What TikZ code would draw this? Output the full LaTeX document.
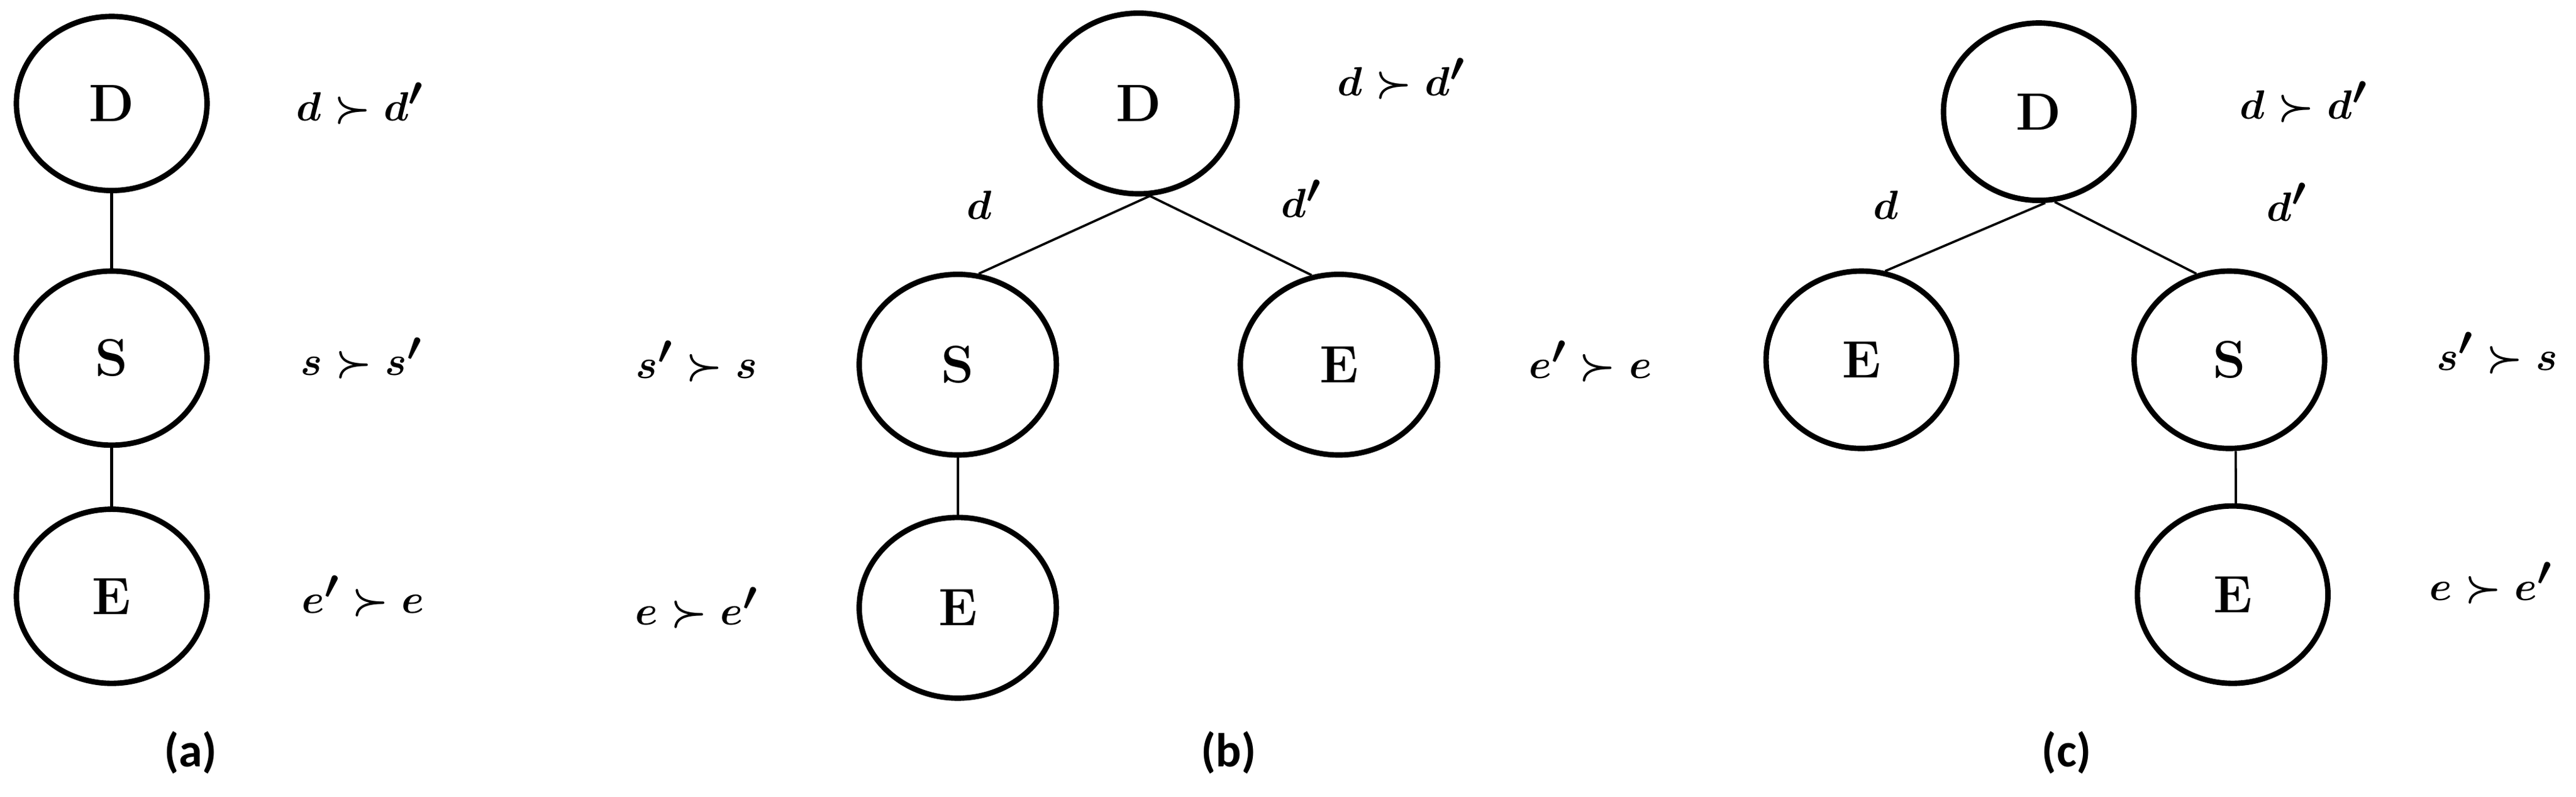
\documentclass[tikz,border=0pt]{standalone}
\usepackage{amsmath}
\usepackage{fontspec}
\newfontfamily\capfont{Carlito}
\usetikzlibrary{shapes.geometric}
\tikzset{
  vtx/.style={ellipse,draw,line width=3.3pt,inner sep=0pt,
    minimum width=116pt,minimum height=106pt,
    font=\fontsize{32}{34}\selectfont\bfseries},
  vtxb/.style={vtx,minimum width=120pt,minimum height=110pt},
  vtxc/.style={vtx,minimum width=116pt,minimum height=108pt},
  conn/.style={line width=1.4pt},
  conna/.style={line width=1.8pt},
  lbl/.style={font=\fontsize{33}{35}\selectfont\boldmath},
  captext/.style={font=\capfont\bfseries\fontsize{29}{31}\selectfont}
}
\begin{document}
\begin{tikzpicture}[x=1pt,y=-1pt]
\useasboundingbox (0,0) rectangle (1568,485);
% (a)
\node[vtx] (aD) at (68,63) {D};
\node[vtx] (aS) at (68,218) {S};
\node[vtx] (aE) at (68,363) {E};
\draw[conna] (aD.south) -- (aS.north);
\draw[conna] (aS.south) -- (aE.north);
\node[lbl] (aLD) at (219,63) {$d \succ d'$};
\node[lbl] (aLS) at (220,218) {$s \succ s'$};
\node[lbl] (aLE) at (221,363) {$e' \succ e$};
\node[captext] (capa) at (116,458) {(a)};
% (b)
\node[vtxb] (bD) at (693,63) {D};
\node[vtxb] (bS) at (583,222) {S};
\node[vtxb] (bE) at (815,222) {E};
\node[vtxb] (bE2) at (583,370) {E};
\draw[conn] (bD.-83) -- (bS.77);
\draw[conn] (bD.-83) -- (bE.107);
\draw[conn] (bS.south) -- (bE2.north);
\node[lbl] (bld) at (596,125) {$d$};
\node[lbl] (bldp) at (792,121) {$d'$};
\node[lbl] (bLD) at (853,48) {$d \succ d'$};
\node[lbl] (bLS) at (424,220) {$s' \succ s$};
\node[lbl] (bLE) at (968,220) {$e' \succ e$};
\node[lbl] (bLE2) at (424,370) {$e \succ e'$};
\node[captext] (capb) at (748,458) {(b)};
% (c)
\node[vtxc] (cD) at (1241,68) {D};
\node[vtxc] (cE) at (1133,219) {E};
\node[vtxc] (cS) at (1357,219) {S};
\node[vtxc] (cE2) at (1359,362) {E};
\draw[conn] (cD.-86) -- (cE.75);
\draw[conn] (cD.-80) -- (cS.111);
\draw[conn] (cS.-86) -- (cE2.88);
\node[lbl] (cld) at (1148,125) {$d$};
\node[lbl] (cldp) at (1392,123) {$d'$};
\node[lbl] (cLD) at (1402,62) {$d \succ d'$};
\node[lbl] (cLS) at (1520,215) {$s' \succ s$};
\node[lbl] (cLE) at (1516,355) {$e \succ e'$};
\node[captext] (capc) at (1258,458) {(c)};
\end{tikzpicture}
\end{document}
